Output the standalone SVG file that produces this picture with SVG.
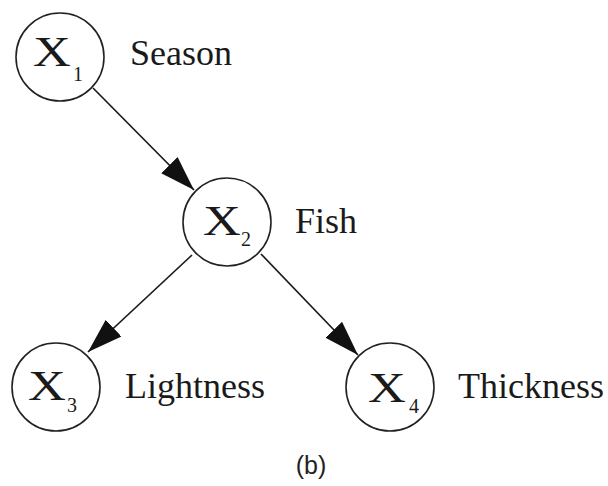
<svg xmlns="http://www.w3.org/2000/svg" width="608" height="486" viewBox="0 0 608 486">
<style>
.node circle{fill:#fff;stroke:#222;stroke-width:1.6}
.x{font-family:"Liberation Serif",serif;font-size:43px;fill:#1a1a1a}
.sub{font-family:"Liberation Serif",serif;font-size:20px;fill:#1a1a1a}
.lbl{font-family:"Liberation Serif",serif;font-size:36px;fill:#1a1a1a}
.edge{stroke:#1a1a1a;stroke-width:1.7;fill:none}
</style>
<defs>
<marker id="ah" markerUnits="userSpaceOnUse" markerWidth="38" markerHeight="24" refX="35" refY="11.5" orient="auto">
<path d="M0,0 L35,11.5 L0,23 Z" fill="#111"/>
</marker>
</defs>
<g id="connectors">
<line class="edge" x1="93" y1="88" x2="194" y2="190" marker-end="url(#ah)"/>
<line class="edge" x1="192" y1="255" x2="88" y2="352" marker-end="url(#ah)"/>
<line class="edge" x1="261" y1="254" x2="358" y2="355" marker-end="url(#ah)"/>
</g>
<g id="X1" class="node">
<circle cx="60" cy="57" r="44"/>
<text class="x" transform="translate(33,66) scale(1.22,1)">X</text>
<text class="sub" x="73" y="81">1</text>
<text class="lbl" x="130" y="65">Season</text>
</g>
<g id="X2" class="node">
<circle cx="227" cy="222" r="44"/>
<text class="x" transform="translate(203,235) scale(1.22,1)">X</text>
<text class="sub" x="241" y="246">2</text>
<text class="lbl" x="295" y="233">Fish</text>
</g>
<g id="X3" class="node">
<circle cx="56" cy="387" r="44"/>
<text class="x" transform="translate(28,400) scale(1.22,1)">X</text>
<text class="sub" x="67" y="412">3</text>
<text class="lbl" x="125" y="398">Lightness</text>
</g>
<g id="X4" class="node">
<circle cx="390" cy="387" r="44"/>
<text class="x" transform="translate(368,402) scale(1.22,1)">X</text>
<text class="sub" x="409" y="413">4</text>
<text class="lbl" x="458" y="398">Thickness</text>
</g>
<text x="311" y="474" text-anchor="middle" font-family="Liberation Sans, sans-serif" font-size="25" fill="#222">(b)</text>
</svg>
